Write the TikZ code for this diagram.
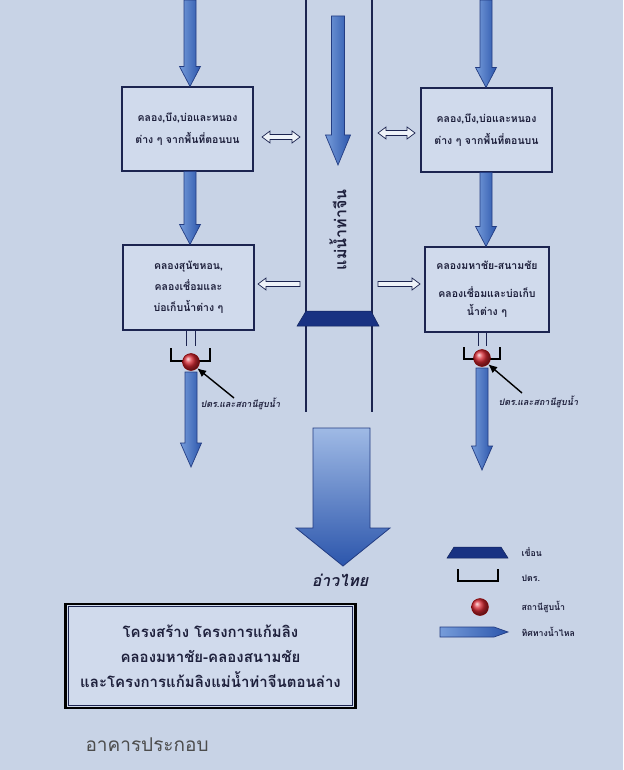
\documentclass[tikz,border=0pt]{standalone}
\usepackage{fontspec}
\newfontfamily\thai[Script=Thai]{Loma}
\usetikzlibrary{calc,arrows.meta}
\definecolor{bg}{RGB}{200,211,230}
\definecolor{boxbg}{RGB}{208,218,236}
\definecolor{navy}{RGB}{28,36,80}
\definecolor{flowlight}{RGB}{118,156,218}
\definecolor{flowdark}{RGB}{44,86,172}
\definecolor{flowedge}{RGB}{35,60,130}
\definecolor{damblue}{RGB}{25,50,130}
\definecolor{pumpred}{RGB}{215,40,50}
\definecolor{txt}{RGB}{30,32,60}
\tikzset{
  box/.style={draw=navy, line width=1.1pt, fill=boxbg, minimum width=131pt, minimum height=84pt,
    align=center, text=txt, font=\thai\bfseries\fontsize{10.5}{22}\selectfont, inner sep=2pt},
  flow/.style={draw=flowedge, line width=0.7pt, left color=flowlight, right color=flowdark},
  hollow/.style={draw=navy, line width=0.7pt, fill=white!70!bg},
  riverline/.style={draw=navy, line width=1.3pt},
  bracketline/.style={draw=black, line width=1.1pt},
  stub/.style={draw=navy, line width=0.9pt},
  pump/.style={circle, minimum size=17pt, inner sep=0pt, draw=red!50!black, line width=0.5pt, shading=ball, ball color=pumpred},
  pointer/.style={draw=black, line width=1.4pt, -{Latex[length=9pt,width=8pt]}},
  small/.style={text=txt, font=\thai\bfseries\itshape\fontsize{9}{11}\selectfont},
  legend/.style={text=txt, anchor=west, font=\thai\bfseries\fontsize{8.8}{10}\selectfont},
  dam/.style={fill=damblue, draw=damblue!70!black, line width=0.5pt},
}
\newcommand{\flowdown}[5]{%
  \draw[flow] let \p1=(#1), \p2=(#2) in
  (\x1-#3,\y1) -- (\x1-#3,\y2+#5) -- (\x1-#4,\y2+#5) -- (\x1,\y2) --
  (\x1+#4,\y2+#5) -- (\x1+#3,\y2+#5) -- (\x1+#3,\y1) -- cycle;}
\newcommand{\hollowboth}[2]{%
  \draw[hollow] let \p1=(#1), \p2=(#2) in
  (\x1,\y1) -- (\x1+8pt,\y1+6pt) -- (\x1+8pt,\y1+2.5pt) -- (\x2-8pt,\y1+2.5pt) --
  (\x2-8pt,\y1+6pt) -- (\x2,\y1) -- (\x2-8pt,\y1-6pt) -- (\x2-8pt,\y1-2.5pt) --
  (\x1+8pt,\y1-2.5pt) -- (\x1+8pt,\y1-6pt) -- cycle;}
% #1 tail, #2 tip (horizontal)
\newcommand{\hollowone}[2]{%
  \draw[hollow] let \p1=(#1), \p2=(#2), \n1={ifthenelse(\x2>\x1,1,-1)} in
  (\x1,\y1+2.5pt) -- (\x2-\n1*8pt,\y1+2.5pt) -- (\x2-\n1*8pt,\y1+6pt) -- (\x2,\y1) --
  (\x2-\n1*8pt,\y1-6pt) -- (\x2-\n1*8pt,\y1-2.5pt) -- (\x1,\y1-2.5pt) -- cycle;}
\begin{document}
\begin{tikzpicture}[x=1pt,y=-1pt]
\fill[bg] (0,0) rectangle (623,770);
\useasboundingbox (0,0) rectangle (623,770);

% river
\draw[riverline] (306,0) -- (306,412);
\draw[riverline] (372,0) -- (372,412);
\coordinate (r0) at (338,16);
\coordinate (r1) at (338,165);
\flowdown{r0}{r1}{6.5pt}{12.5pt}{30pt}
\node[rotate=90, text=txt, font=\thai\bfseries\fontsize{16}{18}\selectfont] (rivername) at (338,230) {แม่น้ำท่าจีน};
\draw[dam] (306,311) -- (371,311) -- (379,326) -- (297,326) -- cycle;

% boxes
\node[box] (b1) at (187.5,129) {คลอง,บึง,บ่อและหนอง\\ต่าง ๆ จากพื้นที่ตอนบน};
\node[box, minimum height=85pt, font=\thai\bfseries\fontsize{10.5}{21}\selectfont] (b2) at (188.5,287.5) {คลองสุนัขหอน,\\คลองเชื่อมและ\\บ่อเก็บน้ำต่าง ๆ};
\node[box] (b3) at (486.5,130) {คลอง,บึง,บ่อและหนอง\\ต่าง ๆ จากพื้นที่ตอนบน};
\node[box, minimum width=124pt, minimum height=85pt] (b4) at (487,289.5) {คลองมหาชัย-สนามชัย\\[6pt]คลองเชื่อมและบ่อเก็บ\\[-4pt]น้ำต่าง ๆ};

% flows left
\coordinate (l0) at (190,0);
\flowdown{l0}{b1.north}{6pt}{10.5pt}{20pt}
\coordinate (l1) at (190,171.5);
\flowdown{l1}{b2.north}{6pt}{10.5pt}{20pt}
% flows right
\coordinate (q0) at (486,0);
\flowdown{q0}{b3.north}{6pt}{10.5pt}{20pt}
\coordinate (q1) at (486,172.5);
\flowdown{q1}{b4.north}{6pt}{10.5pt}{20pt}

% hollow arrows
\coordinate (h1a) at (262,137); \coordinate (h1b) at (300,137);
\hollowboth{h1a}{h1b}
\coordinate (h2a) at (378,133); \coordinate (h2b) at (415,133);
\hollowboth{h2a}{h2b}
\coordinate (h3a) at (300,284); \coordinate (h3b) at (258,284);
\hollowone{h3a}{h3b}
\coordinate (h4a) at (378,284); \coordinate (h4b) at (420,284);
\hollowone{h4a}{h4b}

% left pump station
\draw[stub] (186,330) -- (186,346) (195,330) -- (195,346);
\draw[bracketline] (171,348) -- (171,361) -- (210,361) -- (210,348);
\node[pump] (p1) at (191,362) {};
\coordinate (p1b) at (191,372);
\coordinate (p1e) at (191,467);
\flowdown{p1b}{p1e}{6pt}{10.5pt}{24pt}
\coordinate (p1t) at (234,398);
\draw[pointer] (p1t) -- (p1.south east);
\node[small, anchor=west] (p1lab) at (197,404) {ปตร.และสถานีสูบน้ำ};

% right pump station
\draw[stub] (478,332) -- (478,346) (486,332) -- (486,346);
\draw[bracketline] (464,347) -- (464,359) -- (500,359) -- (500,347);
\node[pump] (p2) at (482,358) {};
\coordinate (p2b) at (482,368);
\coordinate (p2e) at (482,470);
\flowdown{p2b}{p2e}{6pt}{10.5pt}{24pt}
\coordinate (p2t) at (522,393);
\draw[pointer] (p2t) -- (p2.south east);
\node[small, anchor=west] (p2lab) at (495,402) {ปตร.และสถานีสูบน้ำ};

% big outlet arrow
\draw[draw=flowedge, line width=0.8pt, top color=flowlight!70!white, bottom color=flowdark]
  (313,428) -- (370,428) -- (370,528) -- (390,528) -- (343,566) -- (296,528) -- (313,528) -- cycle;
\node[text=txt, font=\thai\bfseries\itshape\fontsize{16}{18}\selectfont] (gulf) at (340,580) {อ่าวไทย};

% legend
\draw[dam] (454,547) -- (501,547) -- (508,558) -- (447,558) -- cycle;
\node[legend] (lg1) at (518,552) {เขื่อน};
\draw[bracketline] (458,569) -- (458,581) -- (498,581) -- (498,569);
\node[legend] (lg2) at (518,578) {ปตร.};
\node[pump] (lgp) at (480,607) {};
\node[legend] (lg3) at (518,607) {สถานีสูบน้ำ};
\draw[flow] (440,627) -- (494,627) -- (508,632) -- (494,637) -- (440,637) -- cycle;
\node[legend] (lg4) at (518,632) {ทิศทางน้ำไหล};

% title box
\node[draw=black, line width=2.6pt, fill=boxbg, minimum width=290pt, minimum height=104pt,
  align=center, text=txt, font=\thai\bfseries\fontsize{15}{25}\selectfont] (title) at (210.5,656)
  {โครงสร้าง โครงการแก้มลิง\\คลองมหาชัย-คลองสนามชัย\\และโครงการแก้มลิงแม่น้ำท่าจีนตอนล่าง};
\draw[navy, line width=0.8pt] ($(title.south west)+(4pt,4pt)$) rectangle ($(title.north east)+(-4pt,-4pt)$);

\node[anchor=west, text=black!70, font=\thai\fontsize{19}{21}\selectfont] (foot) at (82,745) {อาคารประกอบ};
\end{tikzpicture}
\end{document}
